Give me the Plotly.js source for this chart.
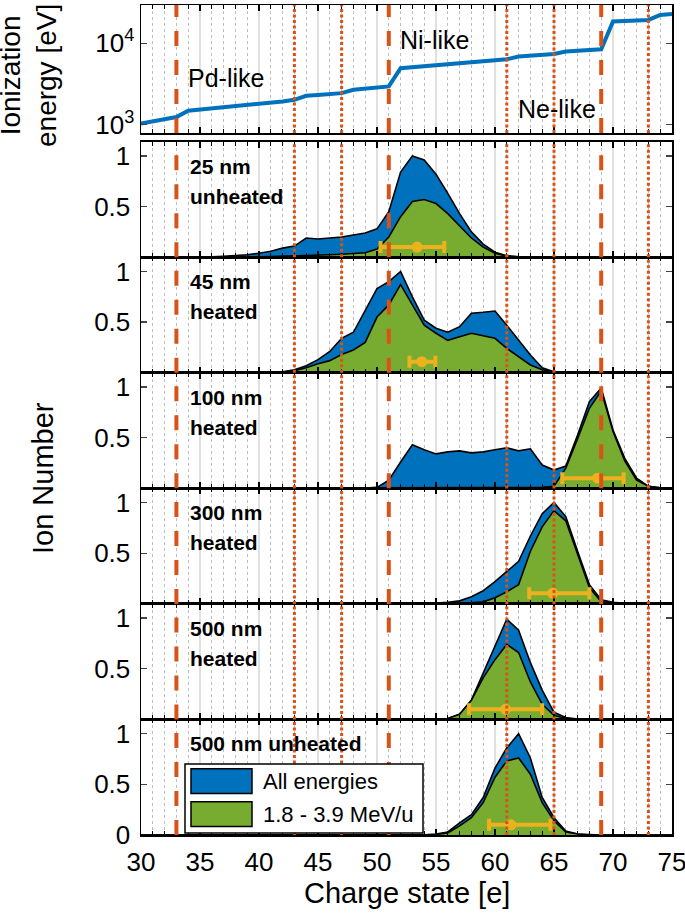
<!DOCTYPE html>
<html><head><meta charset="utf-8">
<script src="https://cdn.plot.ly/plotly-3.0.1.min.js"></script>
<style>html,body{margin:0;padding:0;background:#fff}#chart{width:685px;height:922px}</style>
</head><body><div id="chart"></div>
<script>
// ---------------- DATA ----------------
const chargeStates = [30,31,32,33,34,35,36,37,38,39,40,41,42,43,44,45,46,47,48,49,50,51,52,53,54,55,56,57,58,59,60,61,62,63,64,65,66,67,68,69,70,71,72,73,74,75];

const ionizationEnergy = [1030,1095,1165,1240,1485,1530,1580,1635,1690,1745,
  1805,1865,1930,2020,2265,2320,2380,2440,2680,2760,
  2850,2950,4940,5070,5210,5350,5490,5640,5790,5960,
  6150,6360,6850,7020,7200,7390,7920,8090,8270,8440,
  18450,18700,19000,19300,22200,22800];

const seriesNames = ['All energies', '1.8 - 3.9 MeV/u'];
const panelLabels = ['25 nm\nunheated','45 nm\nheated','100 nm\nheated','300 nm\nheated','500 nm\nheated','500 nm unheated'];

// 25 nm unheated
const all_25nm_unheated = [0,0,0,0,0,0.002,0.005,0.01,0.015,0.025,
  0.04,0.06,0.09,0.11,0.19,0.18,0.19,0.2,0.22,0.24,
  0.28,0.45,0.84,1.0,0.96,0.82,0.63,0.43,0.25,0.13,
  0.05,0.015,0.005,0,0,0,0,0,0,0,
  0,0,0,0,0,0];
const band_25nm_unheated = [0,0,0,0,0,0,0,0,0.002,0.003,
  0.005,0.008,0.01,0.015,0.02,0.022,0.025,0.03,0.035,0.045,
  0.08,0.2,0.4,0.55,0.57,0.53,0.43,0.31,0.19,0.1,
  0.04,0.01,0.003,0,0,0,0,0,0,0,
  0,0,0,0,0,0];
// 45 nm heated
const all_45nm_heated = [0,0,0,0,0,0,0,0,0,0,
  0,0.005,0.01,0.03,0.07,0.13,0.21,0.34,0.4,0.62,
  0.83,0.9,1.0,0.75,0.52,0.44,0.4,0.455,0.587,0.597,
  0.61,0.47,0.32,0.175,0.05,0.01,0,0,0,0,
  0,0,0,0,0,0];
const band_45nm_heated = [0,0,0,0,0,0,0,0,0,0,
  0,0.002,0.005,0.02,0.05,0.09,0.12,0.18,0.225,0.3,
  0.55,0.67,0.87,0.67,0.47,0.39,0.32,0.356,0.39,0.366,
  0.34,0.24,0.16,0.077,0.03,0.01,0,0,0,0,
  0,0,0,0,0,0];
// 100 nm heated
const all_100nm_heated = [0,0,0,0,0,0,0,0,0,0,
  0,0,0,0,0,0,0,0,0,0.003,
  0.01,0.08,0.26,0.43,0.38,0.34,0.36,0.37,0.35,0.36,
  0.38,0.4,0.37,0.39,0.23,0.18,0.22,0.526,0.855,0.99,
  0.575,0.296,0.1,0.02,0.005,0];
const band_100nm_heated = [0,0,0,0,0,0,0,0,0,0,
  0,0,0,0,0,0,0,0,0,0,
  0.002,0.003,0.004,0.005,0.005,0.006,0.006,0.007,0.007,0.008,
  0.008,0.009,0.009,0.01,0.01,0.02,0.2,0.49,0.79,0.963,
  0.56,0.27,0.08,0.02,0.005,0];
// 300 nm heated
const all_300nm_heated = [0,0,0,0,0,0,0,0,0,0,
  0,0,0,0,0,0,0,0,0,0,
  0,0,0,0,0.003,0.008,0.015,0.03,0.07,0.13,
  0.22,0.32,0.42,0.67,0.89,1.0,0.86,0.52,0.19,0.04,
  0.015,0.005,0,0,0,0];
const band_300nm_heated = [0,0,0,0,0,0,0,0,0,0,
  0,0,0,0,0,0,0,0,0,0,
  0,0,0,0,0,0,0,0.005,0.01,0.02,
  0.06,0.12,0.19,0.52,0.76,0.92,0.82,0.49,0.16,0.02,
  0.005,0,0,0,0,0];
// 500 nm heated
const all_500nm_heated = [0,0,0,0,0,0,0,0,0,0,
  0,0,0,0,0,0,0,0,0,0,
  0,0,0,0,0,0.003,0.01,0.05,0.19,0.46,
  0.72,0.99,0.88,0.56,0.29,0.07,0.02,0.005,0,0,
  0,0,0,0,0,0];
const band_500nm_heated = [0,0,0,0,0,0,0,0,0,0,
  0,0,0,0,0,0,0,0,0,0,
  0,0,0,0,0,0.003,0.01,0.05,0.19,0.41,
  0.59,0.74,0.66,0.37,0.15,0.04,0.01,0.003,0,0,
  0,0,0,0,0,0];
// 500 nm unheated
const all_500nm_unheated = [0,0,0,0,0,0,0,0,0,0,
  0,0,0,0,0,0,0,0,0,0,
  0,0,0,0,0.003,0.01,0.03,0.12,0.2,0.37,
  0.66,0.86,1.0,0.76,0.37,0.17,0.04,0.01,0.003,0,
  0,0,0,0,0,0];
const band_500nm_unheated = [0,0,0,0,0,0,0,0,0,0,
  0,0,0,0,0,0,0,0,0,0,
  0,0,0,0,0,0.005,0.02,0.09,0.17,0.32,
  0.57,0.73,0.76,0.6,0.32,0.14,0.03,0.01,0,0,
  0,0,0,0,0,0];

// mean charge state with asymmetric spread (1.8 - 3.9 MeV/u)
const meanCharge  = [53.4, 53.8, 68.7, 64.9, 60.9, 61.35];
const spreadMinus = [3.1, 1.05, 3.0, 2.0, 3.1, 1.85];
const spreadPlus  = [2.3, 1.15, 2.2, 3.1, 3.1, 3.35];
const meanLevel   = [0.1, 0.11, 0.1, 0.105, 0.1, 0.1];

// closed-shell (dashed) and sub-shell (dotted) charge states
const shellClosures = [33, 51, 69];
const subshellStates = [43, 47, 61, 65, 73];
const shellLabels = ['Pd-like', 'Ni-like', 'Ne-like'];
const shellLabelCharge = [33.85, 51.8, 61.8];
const shellLabelEnergy = [3760, 11000, 1570];

// ---------------- LAYOUT ----------------
const allSeries = [all_25nm_unheated, all_45nm_heated, all_100nm_heated, all_300nm_heated, all_500nm_heated, all_500nm_unheated];
const bandSeries = [band_25nm_unheated, band_45nm_heated, band_100nm_heated, band_300nm_heated, band_500nm_heated, band_500nm_unheated];

const W = 685, H = 922, L = 141, R = 13, T = 5, B = 87;
const plotW = W - L - R, plotH = H - T - B, bottomPx = H - B;
const FONT = 'Liberation Sans, Arial, Helvetica, sans-serif';
const BLUE = '#0072BD', GREEN = '#77AC30', ORANGE = '#D95319', YELLOW = '#EDB120';
function dom(topPx, botPx) { return [(bottomPx - botPx) / plotH, (bottomPx - topPx) / plotH]; }
function px2x(px) { return (px - L) / plotW; }
function px2y(py) { return (bottomPx - py) / plotH; }

const panelTop0 = 141.7, panelH = 115.55;

function xAxisCfg(suffix, showLabels) {
  return {
    domain: [0, 1], range: [30, 75], anchor: 'y' + suffix,
    tick0: 30, dtick: 5, ticks: 'inside', ticklen: 6, tickwidth: 1.3, tickcolor: '#000',
    showline: true, linecolor: '#000', linewidth: 1.5, mirror: 'ticks',
    showgrid: true, gridcolor: '#e0e0e0', gridwidth: 1.5, zeroline: false,
    minor: { tick0: 30, dtick: 1, ticks: 'inside', ticklen: 4, tickwidth: 1.1, tickcolor: '#000',
             showgrid: true, gridcolor: '#bdbdbd', griddash: 'dot', gridwidth: 1 },
    showticklabels: showLabels, tickfont: { family: FONT, size: 26, color: '#000' },
    ticklabelstandoff: 3, ticklabeloverflow: 'allow', fixedrange: true
  };
}

const layout = {
  width: W, height: H, margin: { l: L, r: R, t: T, b: B },
  paper_bgcolor: '#fff', plot_bgcolor: '#fff', showlegend: false,
  font: { family: FONT, color: '#000' },
  shapes: [], annotations: []
};

// top panel
layout.xaxis = xAxisCfg('', false);
layout.yaxis = {
  domain: dom(5, 133), type: 'log', range: [2.898, 4.469], anchor: 'x',
  tickvals: [1000, 10000], ticktext: ['10<sup>3</sup>', '10<sup>4</sup>'],
  ticks: 'inside', ticklen: 6, tickwidth: 1.3, showline: true, linecolor: '#000', linewidth: 1.5,
  mirror: 'ticks', showgrid: false, zeroline: false,
  tickfont: { family: FONT, size: 26, color: '#000' }, ticklabelstandoff: 0, fixedrange: true
};

const traces = [];
traces.push({
  x: chargeStates, y: ionizationEnergy, xaxis: 'x', yaxis: 'y', type: 'scatter', mode: 'lines',
  line: { color: BLUE, width: 4 }, hoverinfo: 'skip'
});

for (let i = 0; i < 6; i++) {
  const s = String(i + 2);
  const top = panelTop0 + i * panelH;
  layout['xaxis' + s] = xAxisCfg(s, i === 5);
  layout['yaxis' + s] = {
    domain: dom(top, top + panelH), range: [0, 1.14], anchor: 'x' + s,
    tickvals: i === 5 ? [0, 0.5, 1] : [0.5, 1], ticktext: i === 5 ? ['0', '0.5', '1'] : ['0.5', '1'],
    ticks: 'inside', ticklen: 6, tickwidth: 1.3, showline: true, linecolor: '#000', linewidth: 1.5,
    mirror: 'ticks', showgrid: false, zeroline: false,
    tickfont: { family: FONT, size: 26, color: '#000' }, ticklabelstandoff: 4, fixedrange: true
  };
  traces.push({
    x: chargeStates, y: allSeries[i], xaxis: 'x' + s, yaxis: 'y' + s, type: 'scatter', mode: 'lines',
    fill: 'tozeroy', fillcolor: BLUE, line: { color: '#000', width: 1.6 }, name: seriesNames[0], hoverinfo: 'skip'
  });
  traces.push({
    x: chargeStates, y: bandSeries[i], xaxis: 'x' + s, yaxis: 'y' + s, type: 'scatter', mode: 'lines',
    fill: 'tozeroy', fillcolor: GREEN, line: { color: '#000', width: 1.6 }, name: seriesNames[1], hoverinfo: 'skip'
  });
  traces.push({
    x: [meanCharge[i]], y: [meanLevel[i]], xaxis: 'x' + s, yaxis: 'y' + s, type: 'scatter', mode: 'markers',
    marker: { color: YELLOW, size: 11 },
    error_x: { type: 'data', symmetric: false, array: [spreadPlus[i]], arrayminus: [spreadMinus[i]],
               color: YELLOW, thickness: 4, width: 6 },
    hoverinfo: 'skip'
  });
  // panel label lines
  panelLabels[i].split('\n').forEach((line, k) => {
    layout.annotations.push({
      xref: 'x' + s, yref: 'y' + s, x: 34.0, y: 0.9 - k * 0.297, xanchor: 'left', yanchor: 'middle',
      text: '<b>' + line + '</b>', showarrow: false, font: { family: FONT, size: 21, color: '#000' }
    });
  });
}

// vertical shell lines in every panel
['', '2', '3', '4', '5', '6', '7'].forEach(s => {
  shellClosures.forEach(q => layout.shapes.push({
    type: 'line', xref: 'x' + s, yref: 'y' + s + ' domain', x0: q, x1: q, y0: 0, y1: 1,
    line: { color: ORANGE, width: 4, dash: '15px,14px' }, layer: 'above'
  }));
  subshellStates.forEach(q => layout.shapes.push({
    type: 'line', xref: 'x' + s, yref: 'y' + s + ' domain', x0: q, x1: q, y0: 0, y1: 1,
    line: { color: ORANGE, width: 3, dash: '3px,2.5px' }, layer: 'above'
  }));
});

// shell labels in top panel (log axis -> log10 positions)
shellLabels.forEach((t, k) => layout.annotations.push({
  xref: 'x', yref: 'y', x: shellLabelCharge[k], y: Math.log10(shellLabelEnergy[k]),
  xanchor: 'left', yanchor: 'middle', text: t, showarrow: false,
  font: { family: FONT, size: 25, color: '#000' }
}));

// legend (drawn in bottom panel)
const legX0 = px2x(185), legX1 = px2x(423), legY0 = px2y(833), legY1 = px2y(764);
layout.shapes.push({ type: 'rect', xref: 'paper', yref: 'paper', x0: legX0, x1: legX1, y0: legY0, y1: legY1,
  fillcolor: '#fff', line: { color: '#000', width: 1.5 }, layer: 'above' });
const legFill = [BLUE, GREEN];
const legSym = [[768.8, 793.6], [801.7, 826.5]];
legSym.forEach((r, k) => {
  layout.shapes.push({ type: 'rect', xref: 'paper', yref: 'paper', x0: px2x(191), x1: px2x(252),
    y0: px2y(r[1]), y1: px2y(r[0]), fillcolor: legFill[k], line: { color: '#000', width: 1.5 }, layer: 'above' });
  layout.annotations.push({ xref: 'paper', yref: 'paper', x: px2x(261), y: px2y((r[0] + r[1]) / 2),
    xanchor: 'left', yanchor: 'middle', text: seriesNames[k], showarrow: false,
    font: { family: FONT, size: 22, color: '#000' } });
});

// axis titles
layout.annotations.push({ xref: 'paper', yref: 'paper', x: px2x(29), y: px2y(76), xanchor: 'center', yanchor: 'middle',
  text: 'Ionization<br>energy [eV]', textangle: -90, showarrow: false, font: { family: FONT, size: 28, color: '#000' } });
layout.annotations.push({ xref: 'paper', yref: 'paper', x: px2x(43), y: px2y(478), xanchor: 'center', yanchor: 'middle',
  text: 'Ion Number', textangle: -90, showarrow: false, font: { family: FONT, size: 29, color: '#000' } });
layout.annotations.push({ xref: 'paper', yref: 'paper', x: 0.5, y: px2y(893), xanchor: 'center', yanchor: 'middle',
  text: 'Charge state [e]', showarrow: false, font: { family: FONT, size: 29, color: '#000' } });

Plotly.newPlot('chart', traces, layout, { staticPlot: true, displayModeBar: false });
</script>
</body></html>
